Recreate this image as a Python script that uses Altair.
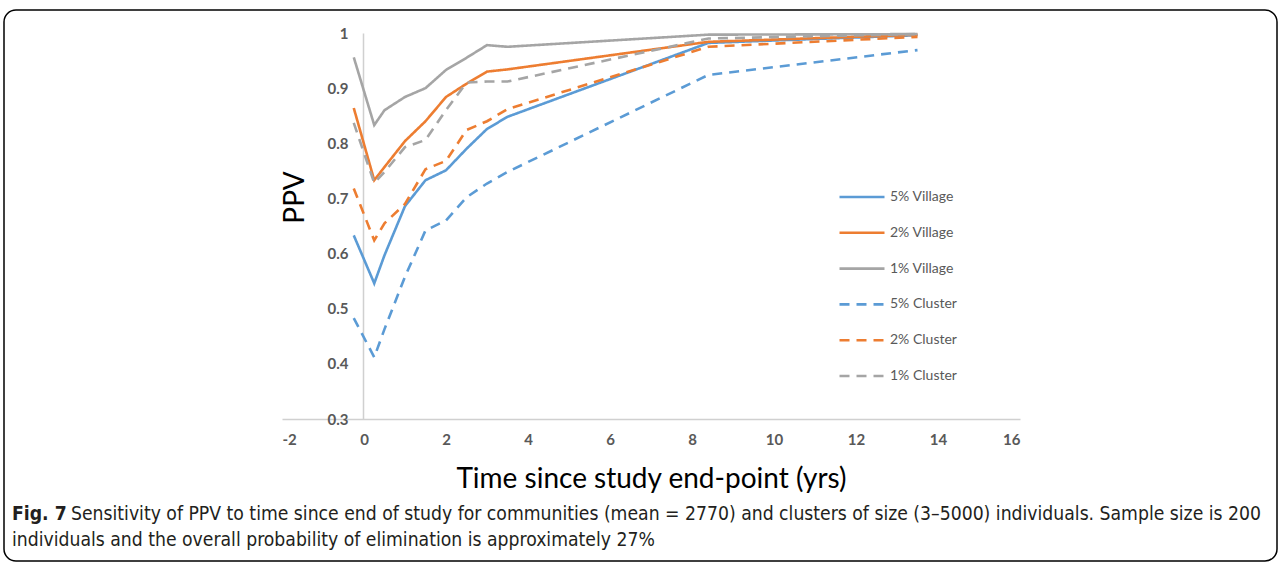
import altair as alt
import pandas as pd

# ---- data ----
time_yrs = [-0.25, 0.25, 0.5, 1, 1.5, 2, 2.5, 3, 3.5, 8.4, 13.5]
series_names = ["5% Village", "2% Village", "1% Village", "5% Cluster", "2% Cluster", "1% Cluster"]

village_5 = [0.633, 0.546, 0.597, 0.686, 0.733, 0.751, 0.790, 0.826, 0.848, 0.982, 0.996]
village_2 = [0.864, 0.733, 0.757, 0.804, 0.840, 0.884, 0.908, 0.930, 0.934, 0.984, 0.997]
village_1 = [0.956, 0.833, 0.860, 0.884, 0.900, 0.933, 0.955, 0.978, 0.975, 0.997, 0.998]
cluster_5 = [0.483, 0.412, 0.463, 0.558, 0.642, 0.660, 0.702, 0.727, 0.748, 0.924, 0.969]
cluster_2 = [0.718, 0.624, 0.655, 0.690, 0.753, 0.768, 0.824, 0.840, 0.862, 0.975, 0.993]
cluster_1 = [0.837, 0.728, 0.748, 0.793, 0.806, 0.860, 0.910, 0.912, 0.912, 0.990, 0.998]

x_ticks = [-2, 0, 2, 4, 6, 8, 10, 12, 14, 16]
y_ticks = [0.3, 0.4, 0.5, 0.6, 0.7, 0.8, 0.9, 1.0]

caption_bold = "Fig. 7"
caption_line1 = ("Sensitivity of PPV to time since end of study for communities (mean = 2770) and "
                 "clusters of size (3\u20135000) individuals. Sample size is 200")
caption_line2 = "individuals and the overall probability of elimination is approximately 27%"

# ---- build table ----
all_vals = [village_5, village_2, village_1, cluster_5, cluster_2, cluster_1]
rows = []
for name, vals in zip(series_names, all_vals):
    for t, v in zip(time_yrs, vals):
        rows.append({"t": t, "ppv": v, "series": name})
df = pd.DataFrame(rows)

colors = ["#5B9BD5", "#ED7D31", "#A5A5A5", "#5B9BD5", "#ED7D31", "#A5A5A5"]
dashes = [[1, 0], [1, 0], [1, 0], [10, 7], [10, 7], [10, 7]]

W, H = 738, 386
PAD_L, PAD_T = 282, 33

legend_kw = dict(
    orient="none", legendX=556, legendY=154, title=None,
    symbolType="stroke", symbolSize=2025, symbolStrokeWidth=2.6,
    clipHeight=20, rowPadding=15.8, labelOffset=4,
    labelFont="Lato", labelFontSize=14, labelColor="#595959",
)

lines = alt.Chart(df).mark_line(strokeWidth=2.6).encode(
    x=alt.X("t:Q",
            scale=alt.Scale(domain=[-2, 16], nice=False, zero=False),
            axis=alt.Axis(values=x_ticks, labelExpr="datum.value + ''",
                          title="Time since study end-point (yrs)",
                          ticks=False, grid=False, domainColor="#D0D0D0", domainWidth=1.5,
                          labelFont="Lato", labelFontWeight="bold", labelFontSize=15,
                          labelColor="#595959", labelPadding=13,
                          titleFont="Lato", titleFontSize=28, titleFontWeight="normal",
                          titleColor="#000000", titleBaseline="alphabetic", titleY=68)),
    y=alt.Y("ppv:Q",
            scale=alt.Scale(domain=[0.3, 1.0], nice=False, zero=False),
            axis=alt.Axis(values=y_ticks, format="~g", title="PPV", offset=-81,
                          ticks=False, grid=False, domainColor="#D0D0D0", domainWidth=1.5,
                          labelFont="Lato", labelFontWeight="bold", labelFontSize=15,
                          labelColor="#595959", labelPadding=15,
                          titleFont="Lato", titleFontSize=28, titleFontWeight="normal",
                          titleColor="#000000", titleAngle=270, titleAlign="center",
                          titleBaseline="alphabetic", titleX=-60, titleY=164)),
    color=alt.Color("series:N", sort=series_names,
                    scale=alt.Scale(domain=series_names, range=colors),
                    legend=alt.Legend(**legend_kw)),
    strokeDash=alt.StrokeDash("series:N", sort=series_names,
                              scale=alt.Scale(domain=series_names, range=dashes),
                              legend=alt.Legend(**legend_kw)),
)

one = alt.Data(values=[{"k": 1}])

frame = alt.Chart(one).mark_rect(fill=None, stroke="#000000", strokeWidth=1.5,
                                 cornerRadius=12).encode(
    x=alt.value(-278), x2=alt.value(995), y=alt.value(-23), y2=alt.value(528))

cap_font = "DejaVu Sans Condensed, Liberation Sans, sans-serif"
cap_size = 19.2
cap_b = alt.Chart(one).mark_text(align="left", baseline="middle", font=cap_font,
                                 fontSize=cap_size, fontWeight="bold", color="#231F20").encode(
    x=alt.value(-270), y=alt.value(481), text=alt.value(caption_bold))
cap_1 = alt.Chart(one).mark_text(align="left", baseline="middle", font=cap_font,
                                 fontSize=cap_size, color="#231F20").encode(
    x=alt.value(-211), y=alt.value(481), text=alt.value(caption_line1))
cap_2 = alt.Chart(one).mark_text(align="left", baseline="middle", font=cap_font,
                                 fontSize=cap_size, color="#231F20").encode(
    x=alt.value(-270), y=alt.value(507), text=alt.value(caption_line2))

chart = alt.layer(frame, lines, cap_b, cap_1, cap_2).properties(
    width=W, height=H,
    autosize=alt.AutoSizeParams(type="none"),
    padding={"left": PAD_L, "top": PAD_T, "right": 1281 - PAD_L - W, "bottom": 563 - PAD_T - H},
).configure(background="#FFFFFF").configure_view(stroke=None)

chart.save("out.html", embed_options={"renderer": "svg", "actions": False})
